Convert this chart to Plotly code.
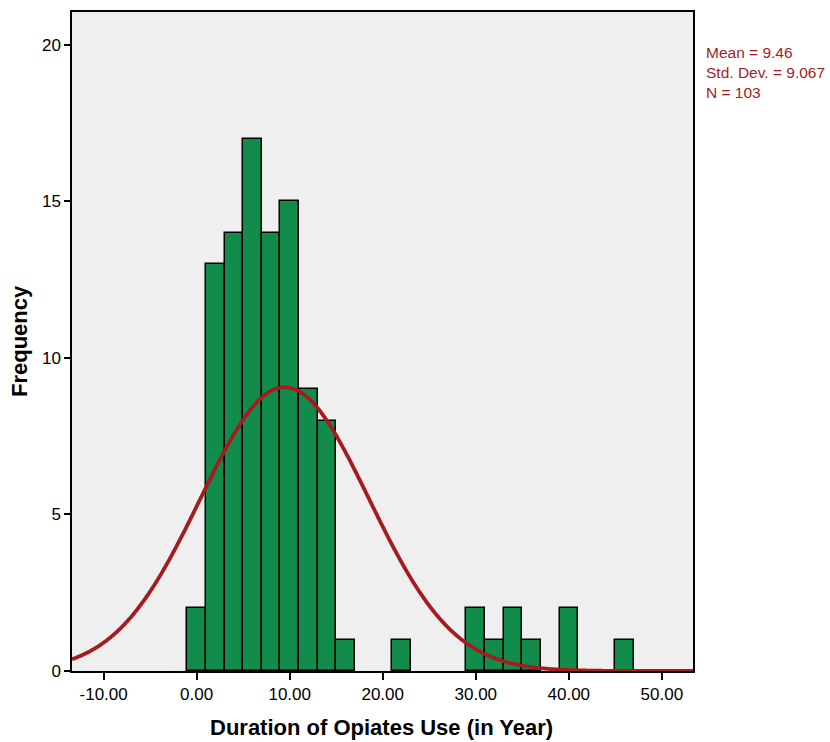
import numpy as np
import plotly.graph_objects as go

# Histogram bins (centers, width 2 years) and counts
bin_centers = [0, 2, 4, 6, 8, 10, 12, 14, 16, 22, 30, 32, 34, 36, 40, 46]
counts = [2, 13, 14, 17, 14, 15, 9, 8, 1, 1, 2, 1, 2, 1, 2, 1]
bin_width = 2.0

# Summary statistics shown on the chart
mean_val = 9.46
sd_val = 9.067
n_val = 103

x_tick_vals = [-10, 0, 10, 20, 30, 40, 50]
x_tick_text = ["-10.00", "0.00", "10.00", "20.00", "30.00", "40.00", "50.00"]
y_tick_vals = [0, 5, 10, 15, 20]

x_title = "Duration of Opiates Use (in Year)"
y_title = "Frequency"

x_range = [-13.4, 53.35]
y_range = [0, 21.05]

# Normal curve fitted from the reported statistics
xc = np.linspace(x_range[0], x_range[1], 600)
yc = n_val * bin_width / (sd_val * np.sqrt(2 * np.pi)) * np.exp(-0.5 * ((xc - mean_val) / sd_val) ** 2)

fig = go.Figure()
fig.add_trace(go.Bar(
    x=bin_centers, y=counts, width=bin_width,
    marker=dict(color="#118C4A", line=dict(color="black", width=1.5)),
    showlegend=False, hoverinfo="x+y",
))
fig.add_trace(go.Scatter(
    x=xc, y=yc, mode="lines",
    line=dict(color="#A51C1F", width=3.8, shape="spline"),
    showlegend=False, hoverinfo="skip",
))

font_family = "Arial, Liberation Sans, sans-serif"

fig.update_layout(
    width=830, height=742,
    margin=dict(l=72, r=137, t=12, b=71),
    paper_bgcolor="white",
    plot_bgcolor="#EFEFEF",
    bargap=0,
    font=dict(family=font_family, color="black"),
    xaxis=dict(
        range=x_range, tickvals=x_tick_vals, ticktext=x_tick_text,
        ticks="outside", ticklen=7, tickwidth=2, tickcolor="black",
        showgrid=False, zeroline=False, automargin=False,
        showline=True, linecolor="black", linewidth=1.5, mirror=True,
        tickfont=dict(size=17, family=font_family),
    ),
    yaxis=dict(
        range=y_range, tickvals=y_tick_vals,
        ticks="outside", ticklen=6, tickwidth=2, tickcolor="black",
        showgrid=False, zeroline=False, automargin=False,
        showline=True, linecolor="black", linewidth=1.5, mirror=True,
        tickfont=dict(size=17, family=font_family),
    ),
    annotations=[
        dict(
            x=1.017, y=0.954, xref="paper", yref="paper",
            xanchor="left", yanchor="top", align="left",
            text=f"Mean = {mean_val:.2f}<br>Std. Dev. = {sd_val:.3f}<br>N = {n_val}",
            showarrow=False,
            font=dict(size=15.5, color="#A51C1F", family=font_family),
        ),
        dict(
            x=0.499, y=-0.085, xref="paper", yref="paper",
            xanchor="center", yanchor="middle",
            text=f"<b>{x_title}</b>", showarrow=False,
            font=dict(size=22, family=font_family, color="black"),
        ),
        dict(
            x=-0.0837, y=0.5008, xref="paper", yref="paper",
            xanchor="center", yanchor="middle", textangle=-90,
            text=f"<b>{y_title}</b>", showarrow=False,
            font=dict(size=22, family=font_family, color="black"),
        ),
    ],
)

fig.write_html("out.html")
